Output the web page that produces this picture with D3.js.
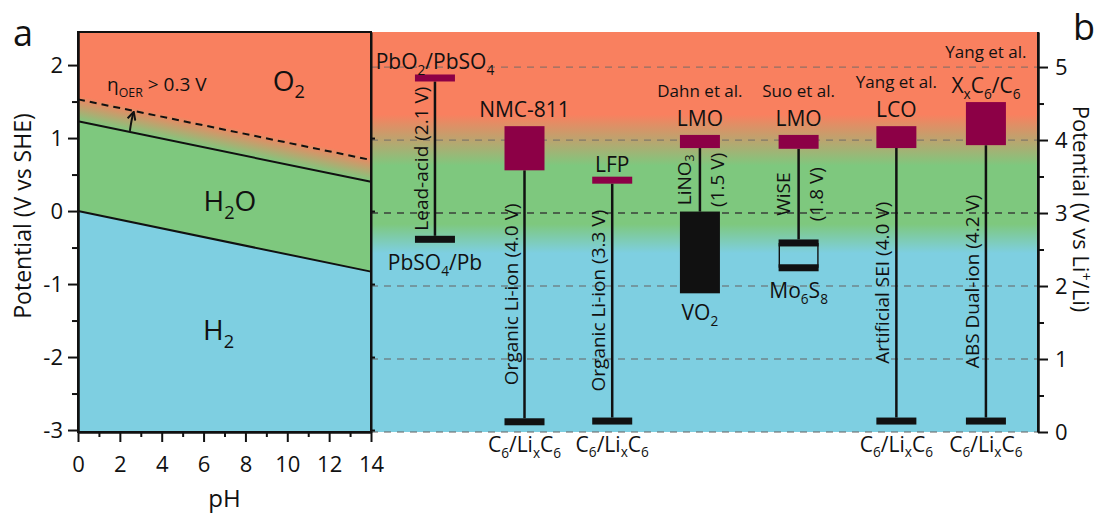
<!DOCTYPE html>
<html lang="en">
<head>
<meta charset="utf-8">
<title>Aqueous cell potentials</title>
<script src="https://cdnjs.cloudflare.com/ajax/libs/d3/7.8.5/d3.min.js"></script>
<style>
  body { margin: 0; background: #fff; }
  svg text { font-family: "Open Sans", sans-serif; fill: #111; }
  .tick text { font-size: 22px; }
  .axis path, .axis line { stroke: #111; stroke-width: 2px; }
</style>
</head>
<body>
<svg id="chart" width="1100" height="513"></svg>
<script>
// ---- panel a: water stability window vs pH (V vs SHE at pH 0 and pH 14)
var phEnds = [0, 14];
var oxygenLine = [1.23, 0.40];
var hydrogenLine = [0.00, -0.83];
var oerLine = [1.53, 0.70];
var phTicks = [0, 2, 4, 6, 8, 10, 12, 14];
var phMinor = [1, 3, 5, 7, 9, 11, 13];
var sheTicks = [-3, -2, -1, 0, 1, 2];
var sheMinor = [-2.5, -1.5, -0.5, 0.5, 1.5];

// ---- panel b: cells, potentials in V vs Li+/Li
var cells = ["Lead-acid", "NMC-811", "LFP", "Dahn LMO", "Suo LMO", "Yang LCO", "Yang dual-ion"];
var cellSlot = [0.70, 1.68, 2.64, 3.60, 4.68, 5.75, 6.73];
var cathodeLo = [4.85, 3.585, 3.45, 3.89, 3.88, 3.89, 3.93];
var cathodeHi = [4.85, 4.19, 3.45, 4.07, 4.07, 4.19, 4.52];
var anodeLo = [2.64, 0.14, 0.15, 1.90, 2.25, 0.15, 0.15];
var anodeHi = [2.64, 0.14, 0.15, 3.02, 2.59, 0.15, 0.15];
var anodeKind = ["bar", "bar", "bar", "box", "frame", "bar", "bar"];
var cathodeNames = ["PbO_{2}/PbSO_{4}", "NMC-811", "LFP", "LMO", "LMO", "LCO", "X_{x}C_{6}/C_{6}"];
var refNames = ["", "", "", "Dahn et al.", "Suo et al.", "Yang et al.", "Yang et al."];
var anodeNames = ["PbSO_{4}/Pb", "C_{6}/Li_{x}C_{6}", "C_{6}/Li_{x}C_{6}", "VO_{2}", "Mo_{6}S_{8}", "C_{6}/Li_{x}C_{6}", "C_{6}/Li_{x}C_{6}"];
var cellLabels = ["Lead-acid (2.1 V)", "Organic Li-ion (4.0 V)", "Organic Li-ion (3.3 V)", "LiNO_{3}|(1.5 V)", "WiSE|(1.8 V)", "Artificial SEI  (4.0 V)", "ABS Dual-ion (4.2 V)"];
var liTicks = [0, 1, 2, 3, 4, 5];
var liMinor = [0.5, 1.5, 2.5, 3.5, 4.5];

var colOrange = "#f9805f", colGreen = "#7ec87e", colBlue = "#7ecfe1", colCathode = "#8c0046";

var liTop = 5.48, sheOffset = 3.027;
var yLi = d3.scaleLinear().domain([0, liTop]).range([432, 32]);
var ySHE = d3.scaleLinear().domain([-sheOffset, liTop - sheOffset]).range([432, 32]);
var xPH = d3.scaleLinear().domain([0, 14]).range([78, 371]);
var xCell = d3.scaleLinear().domain([0, 7.3]).range([371, 1038]);
var plain = function(d) { return String(d); };

var svg = d3.select("#chart");
var defs = svg.append("defs");

// text with _{sub} and ^{sup} parts
function richText(sel, str, size) {
  var parts = str.split(/(_\{[^}]*\}|\^\{[^}]*\})/).filter(function(s) { return s; });
  var shift = 0;
  parts.forEach(function(p) {
    var target = 0, txt = p, fs = size;
    if (p[0] == "_") { target = size * 0.28; txt = p.slice(2, -1); fs = size * 0.65; }
    else if (p[0] == "^") { target = -size * 0.38; txt = p.slice(2, -1); fs = size * 0.65; }
    sel.append("tspan").attr("dy", target - shift).style("font-size", fs + "px").text(txt);
    shift = target;
  });
  return sel;
}

// ---------- panel b background
var bg = defs.append("linearGradient").attr("id", "bgB")
  .attr("gradientUnits", "userSpaceOnUse")
  .attr("x1", 0).attr("x2", 0).attr("y1", yLi(liTop)).attr("y2", yLi(0));
[[4.35, colOrange], [3.65, colGreen], [2.85, colGreen], [2.45, colBlue]].forEach(function(s) {
  bg.append("stop").attr("offset", (liTop - s[0]) / liTop).attr("stop-color", s[1]);
});
svg.append("rect")
  .attr("x", xCell(0)).attr("y", yLi(liTop))
  .attr("width", xCell(7.3) - xCell(0)).attr("height", yLi(0) - yLi(liTop))
  .attr("fill", "url(#bgB)");

// dashed gridlines
svg.append("g").selectAll("line").data(liTicks).join("line")
  .attr("x1", xCell(0)).attr("x2", xCell(7.3))
  .attr("y1", function(d) { return yLi(d); }).attr("y2", function(d) { return yLi(d); })
  .attr("stroke", function(d) { return d == 3 ? "#333" : "#666"; })
  .attr("stroke-opacity", function(d) { return d == 3 ? 0.9 : 0.7; })
  .attr("stroke-width", 1.3).attr("stroke-dasharray", "7,6");

// ---------- panel a
var pts = function(upper, lower) {
  return [[phEnds[0], upper[0]], [phEnds[1], upper[1]], [phEnds[1], lower[1]], [phEnds[0], lower[0]]]
    .map(function(p) { return [xPH(p[0]), ySHE(p[1])]; }).join(" ");
};
svg.append("rect").attr("x", xPH(0)).attr("y", ySHE.range()[1])
  .attr("width", xPH(14) - xPH(0)).attr("height", ySHE.range()[0] - ySHE.range()[1])
  .attr("fill", colOrange);

var slope = (ySHE(oxygenLine[1]) - ySHE(oxygenLine[0])) / (xPH(14) - xPH(0));
var ang = Math.atan(slope) * 180 / Math.PI;
var ga = defs.append("linearGradient").attr("id", "oerGrad")
  .attr("gradientUnits", "userSpaceOnUse")
  .attr("x1", 0).attr("x2", 0)
  .attr("y1", ySHE(oxygenLine[0])).attr("y2", ySHE(oerLine[0]) - 4)
  .attr("gradientTransform", "translate(" + xPH(0) + ",0) skewY(" + ang + ") translate(" + (-xPH(0)) + ",0)");
ga.append("stop").attr("offset", 0).attr("stop-color", colGreen);
ga.append("stop").attr("offset", 1).attr("stop-color", colOrange);

svg.append("polygon").attr("points", pts(oerLine.map(function(v) { return v + 0.06; }), oxygenLine)).attr("fill", "url(#oerGrad)");
svg.append("polygon").attr("points", pts(oxygenLine, hydrogenLine)).attr("fill", colGreen);
svg.append("polygon").attr("points", pts(hydrogenLine, [ySHE.domain()[0], ySHE.domain()[0]])).attr("fill", colBlue);

var line = d3.line().x(function(d, i) { return xPH(phEnds[i]); }).y(function(d) { return ySHE(d); });
svg.append("path").attr("d", line(oxygenLine)).attr("stroke", "#111").attr("stroke-width", 2).attr("fill", "none");
svg.append("path").attr("d", line(hydrogenLine)).attr("stroke", "#111").attr("stroke-width", 2).attr("fill", "none");
svg.append("path").attr("d", line(oerLine)).attr("stroke", "#111").attr("stroke-width", 2)
  .attr("stroke-dasharray", "7,5").attr("fill", "none");

// overpotential arrow
defs.append("marker").attr("id", "head").attr("viewBox", "0 0 10 10")
  .attr("refX", 8).attr("refY", 5).attr("markerWidth", 5).attr("markerHeight", 5)
  .attr("orient", "auto").append("path").attr("d", "M1,1 L9,5 L1,9").attr("fill", "none")
  .attr("stroke", "#111").attr("stroke-width", 2);
svg.append("path")
  .attr("d", "M" + xPH(2.48) + "," + (ySHE(1.23 - 0.059 * 2.48) - 1) + " Q" + xPH(2.55) + "," + ySHE(1.25) + " " + xPH(2.65) + "," + (ySHE(1.53 - 0.059 * 2.65) + 2))
  .attr("stroke", "#111").attr("stroke-width", 2).attr("fill", "none").attr("marker-end", "url(#head)");

richText(svg.append("text").attr("x", xPH(1.39)).attr("y", ySHE(1.64)), "η_{OER} > 0.3 V", 19);
richText(svg.append("text").attr("x", xPH(10.07)).attr("y", ySHE(1.65)).attr("text-anchor", "middle"), "O_{2}", 28);
richText(svg.append("text").attr("x", xPH(7.26)).attr("y", ySHE(0.0)).attr("text-anchor", "middle"), "H_{2}O", 28);
richText(svg.append("text").attr("x", xPH(6.72)).attr("y", ySHE(-1.77)).attr("text-anchor", "middle"), "H_{2}", 28);

svg.append("rect").attr("x", xPH(0)).attr("y", ySHE.range()[1])
  .attr("width", xPH(14) - xPH(0)).attr("height", ySHE.range()[0] - ySHE.range()[1])
  .attr("fill", "none").attr("stroke", "#111").attr("stroke-width", 2);

// axes of panel a
svg.append("g").attr("class", "axis").attr("transform", "translate(" + xPH(0) + ",0)")
  .call(d3.axisLeft(ySHE).tickValues(sheTicks).tickSize(10).tickSizeOuter(0).tickPadding(5).tickFormat(plain));
svg.append("g").attr("class", "axis").attr("transform", "translate(" + xPH(0) + ",0)")
  .call(d3.axisLeft(ySHE).tickValues(sheMinor).tickSize(6).tickSizeOuter(0).tickFormat(""));
svg.append("g").attr("class", "axis").attr("transform", "translate(" + xPH(14) + ",0)")
  .call(d3.axisRight(ySHE).tickValues(sheTicks.slice(0, -1)).tickSize(4).tickSizeOuter(0).tickFormat(""));
svg.append("g").attr("class", "axis").attr("transform", "translate(0," + ySHE.range()[0] + ")")
  .call(d3.axisBottom(xPH).tickValues(phTicks).tickSize(10).tickSizeOuter(0).tickPadding(14).tickFormat(plain));
svg.append("g").attr("class", "axis").attr("transform", "translate(0," + ySHE.range()[0] + ")")
  .call(d3.axisBottom(xPH).tickValues(phMinor).tickSize(5).tickSizeOuter(0).tickFormat(""));

svg.append("text").attr("x", xPH(7)).attr("y", 507).attr("text-anchor", "middle").style("font-size", "24px").text("pH");
svg.append("text").attr("transform", "translate(31,216) rotate(-90)").attr("text-anchor", "middle")
  .style("font-size", "23px").text("Potential (V vs SHE)");
svg.append("text").attr("x", 13).attr("y", 46).style("font-size", "36px").text("a");

// ---------- panel b cells
var barW = 40, thin = 7;
var g = svg.append("g");
cells.forEach(function(c, i) {
  var cx = xCell(cellSlot[i]);
  var cTop = cathodeHi[i] == cathodeLo[i] ? yLi(cathodeHi[i]) - thin / 2 : yLi(cathodeHi[i]);
  var cBot = cathodeHi[i] == cathodeLo[i] ? yLi(cathodeLo[i]) + thin / 2 : yLi(cathodeLo[i]);
  var aTop = anodeKind[i] == "bar" ? yLi(anodeHi[i]) - thin / 2 : yLi(anodeHi[i]);
  var aBot = anodeKind[i] == "bar" ? yLi(anodeLo[i]) + thin / 2 : yLi(anodeLo[i]);
  if (anodeKind[i] == "frame") { aTop -= thin / 2; aBot += thin / 2; }

  // stem
  g.append("line").attr("x1", cx).attr("x2", cx).attr("y1", cBot).attr("y2", aTop)
    .attr("stroke", "#111").attr("stroke-width", 2.5);

  // cathode
  g.append("rect").attr("x", cx - barW / 2).attr("width", barW)
    .attr("y", cTop).attr("height", cBot - cTop).attr("fill", colCathode);

  // anode
  if (anodeKind[i] == "frame") {
    [anodeHi[i], anodeLo[i]].forEach(function(v) {
      g.append("rect").attr("x", cx - barW / 2).attr("width", barW)
        .attr("y", yLi(v) - thin / 2).attr("height", thin).attr("fill", "#111");
    });
    [-1, 1].forEach(function(s) {
      g.append("line").attr("x1", cx + s * (barW / 2 - 0.7)).attr("x2", cx + s * (barW / 2 - 0.7))
        .attr("y1", yLi(anodeHi[i])).attr("y2", yLi(anodeLo[i])).attr("stroke", "#111").attr("stroke-width", 1.4);
    });
  } else {
    g.append("rect").attr("x", cx - barW / 2).attr("width", barW)
      .attr("y", aTop).attr("height", aBot - aTop).attr("fill", "#111");
  }

  // labels
  var gap = cathodeHi[i] == cathodeLo[i] ? 5 : 9;
  richText(g.append("text").attr("x", cx).attr("y", cTop - gap).attr("text-anchor", "middle"), cathodeNames[i], 21);
  if (refNames[i]) {
    var refGap = cathodeNames[i].indexOf("_") >= 0 ? 35 : 29;
    g.append("text").attr("x", cx).attr("y", cTop - gap - refGap).attr("text-anchor", "middle")
      .style("font-size", "17px").text(refNames[i]);
  }
  richText(g.append("text").attr("x", cx).attr("y", aBot + 27).attr("text-anchor", "middle"), anodeNames[i], 21);

  var midY = (cBot + aTop) / 2;
  var lab = cellLabels[i].split("|");
  if (lab.length == 1) {
    richText(g.append("text").attr("transform", "translate(" + (cx - 14) + "," + midY + ") rotate(-90)")
      .attr("text-anchor", "middle").attr("dominant-baseline", "central"), lab[0], 19);
  } else {
    richText(g.append("text").attr("transform", "translate(" + (cx - 16) + "," + midY + ") rotate(-90)")
      .attr("text-anchor", "middle").attr("dominant-baseline", "central"), lab[0], 19);
    richText(g.append("text").attr("transform", "translate(" + (cx + 17) + "," + midY + ") rotate(-90)")
      .attr("text-anchor", "middle").attr("dominant-baseline", "central"), lab[1], 19);
  }
});

// right axis
svg.append("g").attr("class", "axis").attr("transform", "translate(" + xCell(7.3) + ",0)")
  .call(d3.axisRight(yLi).tickValues(liTicks).tickSize(10).tickSizeOuter(0).tickPadding(7).tickFormat(plain));
svg.append("g").attr("class", "axis").attr("transform", "translate(" + xCell(7.3) + ",0)")
  .call(d3.axisRight(yLi).tickValues(liMinor).tickSize(6).tickSizeOuter(0).tickFormat(""));
svg.append("line").attr("x1", xCell(7.3)).attr("x2", xCell(7.3)).attr("y1", yLi(liTop)).attr("y2", yLi(0))
  .attr("stroke", "#111").attr("stroke-width", 2);
richText(svg.append("text").attr("transform", "translate(1073,209) rotate(90)").attr("text-anchor", "middle")
  .style("font-size", "22px"), "Potential (V vs Li^{+}/Li)", 22);
svg.append("text").attr("x", 1073).attr("y", 40).style("font-size", "36px").text("b");
</script>
</body>
</html>
